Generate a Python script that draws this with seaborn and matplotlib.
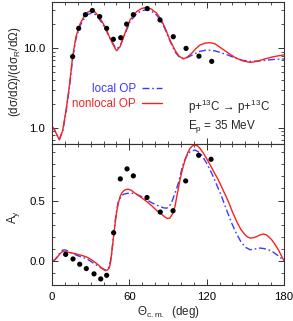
import matplotlib
matplotlib.use("Agg")
import matplotlib.pyplot as plt
import matplotlib.ticker as mticker
import seaborn as sns
import pandas as pd

# ---------------- data ----------------
# top panel: cross-section ratio
xs_exp_angle = [16.0, 20.7, 25.9, 31.3, 37.0, 42.4, 47.6, 53.3, 57.9, 63.1, 73.9, 83.8, 94.1, 104.0, 114.0, 123.9]
xs_exp_value = [7.8, 17.7, 26.3, 29.7, 24.9, 17.7, 12.9, 13.5, 20.0, 26.3, 31.4, 22.6, 13.9, 9.9, 7.9, 6.8]

xs_curve_angle = [0, 2, 3.6, 5.7, 8.3, 10.9, 13.4, 16, 18.6, 21.7, 25.6, 28, 30.8, 33.5, 35.9, 38.5,
                  41.1, 45, 48.9, 50.2, 52.8, 56.6, 60.5, 65.7, 69.5, 73.4, 77, 81.2, 84.5, 87.7,
                  91.5, 95.4, 98.5, 101.9, 105, 108.4, 111.5, 114.8, 118.5, 122.6, 126.5, 131.6,
                  137, 142, 148, 153.6, 159, 165.2, 172, 180]
xs_nonlocal = [1.03, 0.93, 0.82, 0.70, 0.92, 1.64, 3.24, 7.8, 13.9, 20.1, 26.2, 28.5, 29.5, 28.3, 25.4, 22.0,
               18.6, 13.3, 9.9, 9.25, 10.4, 15.4, 22.6, 28.8, 31.5, 32.5, 31.0, 27.5, 23.0, 18.0,
               12.6, 9.4, 7.9, 7.3, 7.7, 8.6, 9.8, 10.9, 11.5, 11.7, 11.3, 9.9,
               8.6, 7.6, 6.9, 6.6, 6.8, 7.3, 7.8, 8.2]
xs_local = [1.03, 0.93, 0.82, 0.71, 0.90, 1.58, 3.1, 7.4, 13.2, 19.0, 24.5, 26.6, 27.5, 26.5, 24.0, 21.0,
            18.0, 13.3, 10.3, 9.8, 10.6, 15.0, 21.5, 27.0, 29.5, 30.3, 29.2, 26.0, 22.0, 17.3,
            12.3, 9.0, 7.8, 7.4, 7.6, 8.1, 8.6, 9.1, 9.35, 9.4, 9.2, 8.7,
            8.1, 7.5, 7.0, 6.8, 6.85, 7.0, 7.2, 7.3]

# bottom panel: analyzing power
ay_exp_angle = [10.6, 16.3, 21.5, 26.6, 32.6, 37.8, 42.4, 47.8, 53.0, 58.2, 63.1, 73.7, 84.0, 93.9, 103.7, 113.8, 123.4]
ay_exp_value = [0.052, 0.014, -0.03, -0.066, -0.11, -0.152, -0.122, 0.232, 0.68, 0.763, 0.705, 0.525, 0.404, 0.415, 0.663, 0.876, 0.843]

ay_nl_angle = [0, 1, 2, 3.6, 6.2, 8.3, 11.4, 15, 19.1, 23, 26.9, 30, 33.4, 36, 38.5, 40.5, 41.9, 43.3, 44.5,
               45.5, 46.3, 47.2, 48.1, 49.2, 50.2, 51.5, 52.8, 54.3, 55.9, 57.5, 59.2, 61.5, 64.4, 69,
               73.4, 77.5, 81.2, 84.5, 87.7, 89.5, 91.5, 93.5, 95.4, 97.3, 99.3, 101.2, 103.2, 105.2,
               107.1, 109, 110.9, 112.8, 114.8, 118, 121.3, 125, 129, 132.8, 136.8, 140, 143.3, 146.5,
               149.7, 151.5, 153.6, 156, 158.8, 161.5, 163.9, 166, 168, 170.4, 173, 175.6, 178, 180]
ay_nonlocal = [0.0, 0.0, 0.005, 0.022, 0.058, 0.077, 0.072, 0.065, 0.055, 0.044, 0.03, 0.012, -0.014, -0.036,
               -0.061, -0.078, -0.083, -0.075, -0.06, -0.01, 0.064, 0.15, 0.23, 0.33, 0.41, 0.48, 0.533,
               0.565, 0.583, 0.592, 0.594, 0.585, 0.561, 0.527, 0.492, 0.455, 0.417, 0.39, 0.362, 0.35,
               0.355, 0.39, 0.45, 0.56, 0.672, 0.76, 0.837, 0.895, 0.934, 0.955, 0.962, 0.955, 0.934,
               0.885, 0.823, 0.75, 0.672, 0.585, 0.492, 0.405, 0.326, 0.26, 0.216, 0.198, 0.188, 0.19,
               0.2, 0.214, 0.221, 0.216, 0.2, 0.174, 0.135, 0.091, 0.04, 0.0]

ay_lo_angle = [0, 1, 2, 3.6, 6.2, 8.3, 10, 12, 15, 19.1, 23, 26.9, 30, 33.4, 36, 38.5, 41.1, 42.5, 43.8, 45,
               46.3, 47.5, 48.8, 50.2, 51.5, 53.3, 55.4, 58.5, 61.8, 65, 69, 73.4, 78.5, 83.8, 87, 89,
               90.5, 92.8, 95.4, 98, 100, 101.9, 104.5, 107.1, 110.9, 113.5, 116.1, 120, 123.9, 127.8,
               131.6, 135.5, 139.4, 143.3, 147.1, 150.3, 153.6, 157.5, 161.4, 164.5, 167.8, 171, 174.3,
               177, 180]
ay_local = [0.0, 0.0, 0.006, 0.025, 0.065, 0.088, 0.09, 0.082, 0.065, 0.045, 0.03, 0.015, -0.005, -0.03,
            -0.047, -0.062, -0.075, -0.075, -0.06, -0.02, 0.06, 0.18, 0.31, 0.42, 0.49, 0.53, 0.552, 0.56,
            0.561, 0.555, 0.535, 0.506, 0.475, 0.45, 0.438, 0.437, 0.445, 0.484, 0.56, 0.644, 0.73, 0.81,
            0.87, 0.906, 0.92, 0.905, 0.879, 0.81, 0.727, 0.63, 0.533, 0.42, 0.312, 0.22, 0.147, 0.11,
            0.091, 0.097, 0.105, 0.1, 0.091, 0.075, 0.05, 0.027, 0.0]

x_ticks = [0, 60, 120, 180]
x_ticklabels = ["0", "60", "120", "180"]
xs_yticks = [1.0, 10.0]
xs_yticklabels = ["1.0", "10.0"]
ay_yticks = [0.0, 0.5]
ay_yticklabels = ["0.0", "0.5"]

RED = "#f42323"
BLUE = "#3a3aff"

# ---------------- style ----------------
sns.set_theme(style="ticks")
plt.rcParams["font.family"] = ["Liberation Sans", "DejaVu Sans"]
plt.rcParams["mathtext.fontset"] = "custom"
plt.rcParams["mathtext.rm"] = "Liberation Sans"
plt.rcParams["mathtext.default"] = "regular"
plt.rcParams["font.size"] = 8.2
plt.rcParams["axes.linewidth"] = 0.8

fig = plt.figure(figsize=(2.93, 3.21), dpi=100)
ax1 = fig.add_axes([0.1775, 0.5514, 0.7918, 0.4424])
ax2 = fig.add_axes([0.1775, 0.1131, 0.7918, 0.4383])

dash_dot = (0, (5, 2, 1.2, 2))

# top panel
df_top_nl = pd.DataFrame({"angle": xs_curve_angle, "value": xs_nonlocal})
df_top_lo = pd.DataFrame({"angle": xs_curve_angle, "value": xs_local})
df_top_exp = pd.DataFrame({"angle": xs_exp_angle, "value": xs_exp_value})
sns.lineplot(data=df_top_lo, x="angle", y="value", ax=ax1, color=BLUE, lw=1.0,
             linestyle=dash_dot, estimator=None, sort=False, label="local OP")
sns.lineplot(data=df_top_nl, x="angle", y="value", ax=ax1, color=RED, lw=1.0,
             estimator=None, sort=False, label="nonlocal OP")
sns.scatterplot(data=df_top_exp, x="angle", y="value", ax=ax1, color="black", s=14,
                edgecolor="none", zorder=5)

ax1.set_yscale("log")
ax1.set_xlim(0, 180)
ax1.set_ylim(0.62, 38)
ax1.set_yticks(xs_yticks)
ax1.set_yticklabels(xs_yticklabels)
ax1.yaxis.set_minor_locator(mticker.LogLocator(base=10, subs=[2, 3, 4, 5, 6, 7, 8, 9]))
ax1.yaxis.set_minor_formatter(mticker.NullFormatter())
ax1.set_xticks(x_ticks)
ax1.xaxis.set_minor_locator(mticker.MultipleLocator(10))
ax1.tick_params(axis="x", labelbottom=False)
ax1.set_xlabel("")
ax1.set_ylabel("(dσ/dΩ)/(dσ$_R$/dΩ)", fontsize=8.4)
ax1.yaxis.set_label_coords(-0.125, 0.51)

leg = ax1.legend(loc="center right", bbox_to_anchor=(0.474, 0.333), frameon=False,
                 markerfirst=False, handlelength=1.75, handletextpad=0.5,
                 labelspacing=0.3, borderpad=0, borderaxespad=0, labelcolor="linecolor",
                 fontsize=8.4)

ax1.text(0.586, 0.26, "p+$^{13}$C → p+$^{13}$C", transform=ax1.transAxes,
         ha="left", va="center", fontsize=8.4)
ax1.text(0.586, 0.12, "E$_p$ = 35 MeV", transform=ax1.transAxes,
         ha="left", va="center", fontsize=8.4)

# bottom panel
df_bot_nl = pd.DataFrame({"angle": ay_nl_angle, "value": ay_nonlocal})
df_bot_lo = pd.DataFrame({"angle": ay_lo_angle, "value": ay_local})
df_bot_exp = pd.DataFrame({"angle": ay_exp_angle, "value": ay_exp_value})
sns.lineplot(data=df_bot_lo, x="angle", y="value", ax=ax2, color=BLUE, lw=1.0,
             linestyle=dash_dot, estimator=None, sort=False)
sns.lineplot(data=df_bot_nl, x="angle", y="value", ax=ax2, color=RED, lw=1.0,
             estimator=None, sort=False)
sns.scatterplot(data=df_bot_exp, x="angle", y="value", ax=ax2, color="black", s=14,
                edgecolor="none", zorder=5)

ax2.set_xlim(0, 180)
ax2.set_ylim(-0.2, 0.97)
ax2.set_xticks(x_ticks)
ax2.set_xticklabels(x_ticklabels)
ax2.xaxis.set_minor_locator(mticker.MultipleLocator(10))
ax2.set_yticks(ay_yticks)
ax2.set_yticklabels(ay_yticklabels)
ax2.yaxis.set_minor_locator(mticker.MultipleLocator(0.1))
ax2.set_xlabel("Θ$_{c.m.}$  (deg)", fontsize=8.4, labelpad=1.5)
ax2.set_ylabel("A$_y$", fontsize=8.4)
ax2.yaxis.set_label_coords(-0.13, 0.48)

for ax in (ax1, ax2):
    for sp in ax.spines.values():
        sp.set_visible(True)
        sp.set_color("#333333")
        sp.set_linewidth(0.8)
    ax.tick_params(which="both", direction="in", top=True, right=True, colors="#333333",
                   labelcolor="black", labelsize=8.2, pad=5)
    ax.tick_params(which="major", length=4, width=0.7)
    ax.tick_params(which="minor", length=2, width=0.6)

fig.savefig("out.png", dpi=100)
